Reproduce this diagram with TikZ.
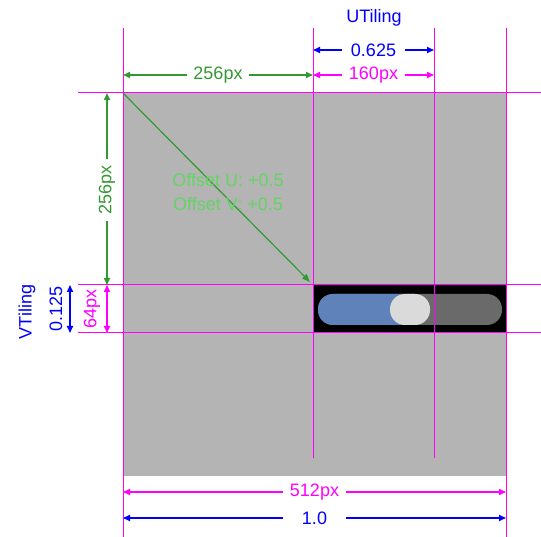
\documentclass[tikz,border=0pt]{standalone}
\usepackage{fontspec}
\setmainfont{Liberation Sans}
\usetikzlibrary{arrows.meta,positioning,calc}
\definecolor{guide}{RGB}{255,0,255}
\definecolor{tilebl}{RGB}{0,0,255}
\definecolor{offgr}{RGB}{51,153,51}
\definecolor{glowgr}{RGB}{100,212,100}
\definecolor{canvas}{RGB}{180,180,180}
\definecolor{track}{RGB}{106,106,106}
\definecolor{knob}{RGB}{218,218,218}
\definecolor{fillbl}{RGB}{95,130,186}
\tikzset{
  dimarrow/.style={-{Triangle[length=7pt,width=6pt]},line width=1.6pt},
  dimlabel/.style={font=\fontsize{18}{20}\selectfont,inner sep=0pt,
    minimum width=62pt,minimum height=16pt},
  sidelabel/.style={font=\fontsize{18}{20}\selectfont,inner sep=0pt,rotate=90},
}
\begin{document}
\begin{tikzpicture}[x=1pt,y=-1pt]
    \useasboundingbox (0,0) rectangle (541,537);
    % texture and toggle
    \fill[canvas] (123,93) rectangle (506,476);
    \fill[black] (313,285) rectangle (506,333);
    \fill[track,rounded corners=15pt] (318,294) rectangle (502,325);
    \fill[fillbl,rounded corners=15pt] (318,294) rectangle (430,325);
    \fill[knob,rounded corners=15pt] (390,294) rectangle (430,325);
    % guide lines
    \foreach \x/\yb in {123/537,313/458,434/458,506/537}
      \draw[guide,line width=1pt] (\x,28) -- (\x,\yb);
    \foreach \y in {93,285,333}
      \draw[guide,line width=1pt] (78,\y) -- (541,\y);
    % offset
    \coordinate (origin) at (123,93);
    \coordinate (shifted) at (310,282);
    \draw[offgr,line width=1.2pt,-{Triangle[length=8pt,width=6pt]}] (origin) -- (shifted);
    \node[font=\fontsize{18}{24}\selectfont,align=center,text=glowgr] (offset)
      at (228,192) {Offset U: +0.5\\Offset V: +0.5};
    % horizontal dimensions
    \foreach \nm/\xa/\xb/\y/\txt/\col in {
      uoff/123/313/75/256px/offgr,
      usize/313/434/75/160px/guide,
      utile/313/434/50/0.625/tilebl,
      wsize/123/506/492/512px/guide,
      wtile/123/506/518/1.0/tilebl}{
      \node[dimlabel,text=\col] (\nm) at ({(\xa+\xb)/2},\y) {\txt};
      \coordinate (\nm L) at (\xa,\y);
      \coordinate (\nm R) at (\xb,\y);
      \draw[dimarrow,\col] (\nm) -- (\nm L);
      \draw[dimarrow,\col] (\nm) -- (\nm R);
    }
    % vertical dimensions
    \node[dimlabel,rotate=90,text=offgr] (voff) at (107,190) {256px};
    \coordinate (voffT) at (107,93);
    \coordinate (voffB) at (107,285);
    \draw[dimarrow,offgr] (voff) -- (voffT);
    \draw[dimarrow,offgr] (voff) -- (voffB);
    \coordinate (vsizeT) at (107,285);
    \coordinate (vsizeB) at (107,333);
    \draw[dimarrow,guide,{Triangle[length=7pt,width=6pt]}-{Triangle[length=7pt,width=6pt]}] (vsizeT) -- (vsizeB);
    \node[sidelabel,text=guide] (vsize) at (92,309) {64px};
    \coordinate (vtileT) at (70,285);
    \coordinate (vtileB) at (70,333);
    \draw[dimarrow,tilebl,{Triangle[length=7pt,width=6pt]}-{Triangle[length=7pt,width=6pt]}] (vtileT) -- (vtileB);
    \node[sidelabel,text=tilebl] (vtile) at (56,309) {0.125};
    % titles
    \node[font=\fontsize{18}{20}\selectfont,text=tilebl] (utitle) at (374,18) {UTiling};
    \node[sidelabel,text=tilebl] (vtitle) at (27,312) {VTiling};
  \end{tikzpicture}
\end{document}
